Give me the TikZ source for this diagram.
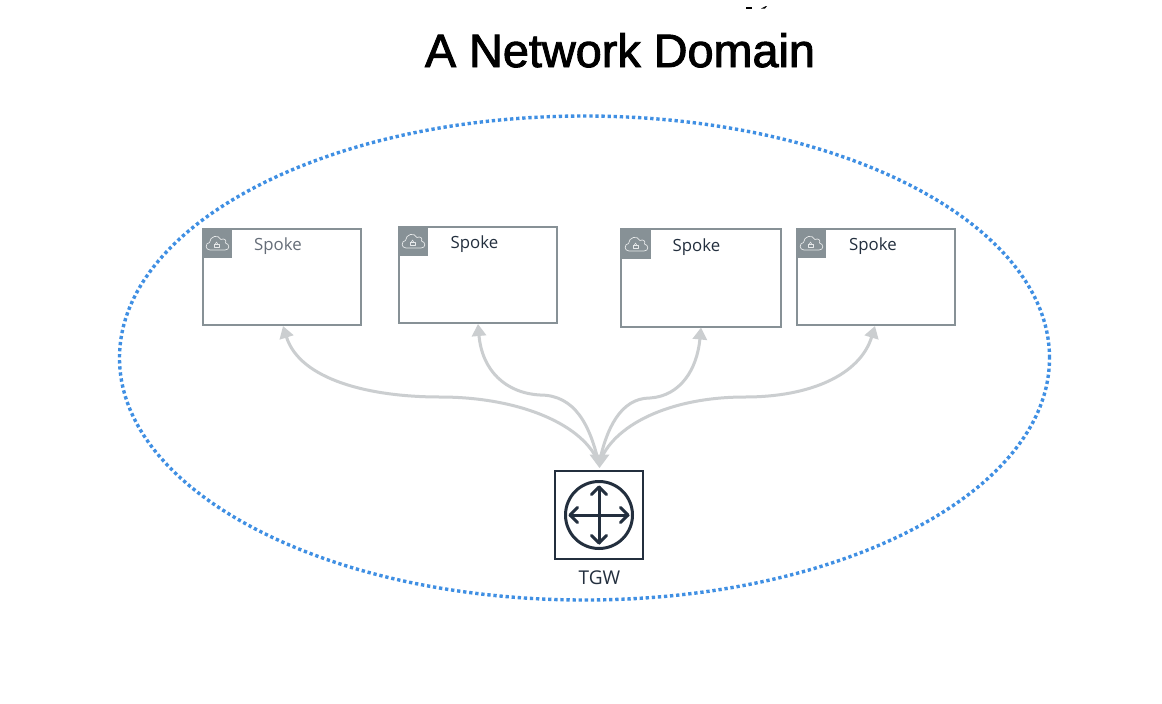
\documentclass[tikz,border=0pt]{standalone}
\usepackage{fontspec}
\setmainfont{Open Sans}
\newfontfamily\titlefont[BoldFont={Liberation Sans},BoldFeatures={FakeBold=2}]{Liberation Sans}
\usetikzlibrary{arrows.meta,shapes.geometric}
\definecolor{boxgray}{HTML}{879196}
\definecolor{linkgray}{HTML}{CBCED0}
\definecolor{domblue}{HTML}{3F8FE3}
\definecolor{navy}{HTML}{232F3E}
\tikzset{
  x=1pt,y=-1pt,
  spokebox/.style={draw=boxgray,line width=1.8pt,fill=white,inner sep=0pt,outer sep=0pt,minimum height=#1},
  spokelabel/.style={font=\fontsize{16.8}{18}\selectfont,inner sep=0pt,text=navy},
  link/.style={draw=linkgray,line width=3pt,-{Triangle[width=14pt,length=12pt]}},
  iconline/.style={draw=white!80!boxgray,line width=0.7pt,line join=round},
  hubline/.style={draw=navy,line width=3pt,line cap=round,line join=round},
}
\newcommand{\spokeicon}[2]{%
  \fill[boxgray] (#1-0.9,#2-0.9) rectangle (#1+29,#2+29);
  \begin{scope}[shift={(#1,#2)}]
    \draw[iconline] (7,21) .. controls (2,21) and (2,14) .. (6.5,13.5)
      .. controls (7,7) and (15,5) .. (18,10.5)
      .. controls (21,9) and (24,11) .. (22.5,14)
      .. controls (27,15) and (27,21) .. (22,21) -- cycle;
    \draw[iconline,line width=0.6pt] (11,15) rectangle (16,18.5);
    \draw[iconline,line width=0.6pt] (12.3,15) .. controls (12.3,12.5) and (14.7,12.5) .. (14.7,15);
  \end{scope}}
\begin{document}
\begin{tikzpicture}
\useasboundingbox[fill=white] (0,0) rectangle (1162,704);
% stray marks at the top of the page
\fill[black] (746,7) rectangle (752,8.5);
\fill[black] (761,8.5) -- (766,6) -- (767,6) -- (765,8.5) -- cycle;
\node[font=\titlefont\bfseries\fontsize{46.8}{50}\selectfont,inner sep=0pt,anchor=base] (title) at (620,67) {A Network Domain};
\node[draw=domblue,line width=3.4pt,dash pattern=on 3.3pt off 2.8pt,ellipse,inner sep=0pt,minimum width=930pt,minimum height=484pt] (domain) at (584.5,358) {};
% spokes
\node[spokebox=96pt,minimum width=158pt] (s1) at (282,277) {};
\node[spokebox=96pt,minimum width=158pt] (s2) at (478,275) {};
\node[spokebox=98pt,minimum width=160pt] (s3) at (701,278) {};
\node[spokebox=96pt,minimum width=158pt] (s4) at (876,277) {};
\spokeicon{203}{229}
\spokeicon{399}{227}
\spokeicon{622}{230}
\spokeicon{797}{229}
\node[spokelabel,text=navy!70,anchor=base] (l1) at (278,250.7) {Spoke};
\node[spokelabel,anchor=base] (l2) at (474.5,248.7) {Spoke};
\node[spokelabel,anchor=base] (l3) at (696.5,251.7) {Spoke};
\node[spokelabel,anchor=base] (l4) at (873,250.7) {Spoke};
% hub
\node[draw=navy,line width=1.2pt,minimum size=88pt,inner sep=0pt,outer sep=0pt] (tgw) at (599,515) {};
\draw[hubline] (tgw.center) circle (33.5pt);
\draw[hubline] ([yshift=28pt]tgw.center) coordinate (hn) -- ([yshift=-28pt]tgw.center) coordinate (hs);
\draw[hubline] ([xshift=-29pt]tgw.center) coordinate (hw) -- ([xshift=29pt]tgw.center) coordinate (he);
\draw[hubline] (591.5,494.5) -- (599,487) -- (606.5,494.5);
\draw[hubline] (591.5,535.5) -- (599,543) -- (606.5,535.5);
\draw[hubline] (577.5,507.5) -- (570,515) -- (577.5,522.5);
\draw[hubline] (620.5,507.5) -- (628,515) -- (620.5,522.5);
\node[font=\fontsize{19}{21}\selectfont,inner sep=0pt,text=navy,anchor=base] (tgwl) at (599.5,584) {TGW};
% links
\coordinate (hub) at (599,464);
\coordinate (m1) at (440,397);
\coordinate (m2) at (540,395);
\coordinate (m3) at (650,398);
\coordinate (m4) at (745,397);
\draw[link] (hub) .. controls (585,425) and (520,397) .. (m1) .. controls (370,397) and (300,380) .. ([xshift=1pt,yshift=-1pt]s1.south);
\draw[link] (hub) .. controls (590,425) and (575,395) .. (m2) .. controls (505,393) and (482,370) .. ([yshift=-1pt]s2.south);
\draw[link] (hub) .. controls (606,430) and (620,398) .. (m3) .. controls (680,396) and (697,370) .. ([yshift=-0.5pt]s3.south);
\draw[link] (hub) .. controls (612,425) and (670,397) .. (m4) .. controls (810,397) and (860,375) .. ([xshift=-1pt,yshift=-1pt]s4.south);
\fill[linkgray] (589.5,454.5) -- (609.5,454.5) -- (599.5,468) -- cycle;
\end{tikzpicture}
\end{document}
